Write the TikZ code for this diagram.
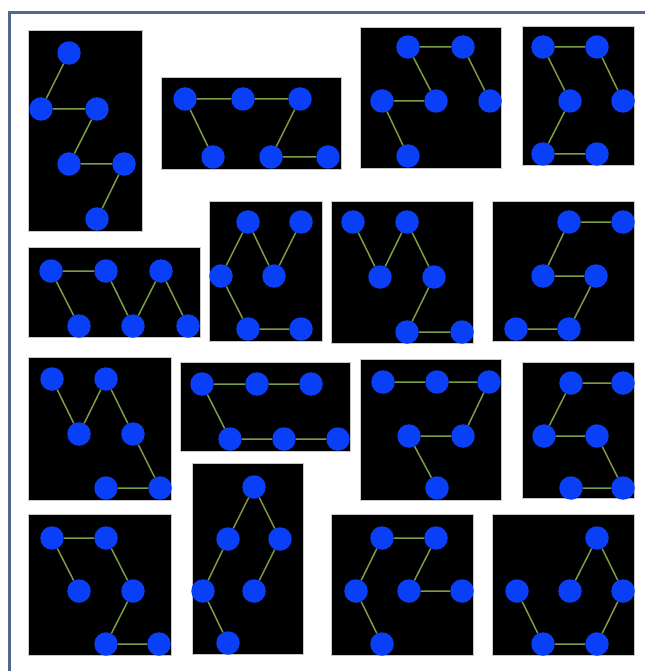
\documentclass[tikz,border=0pt]{standalone}
\usepackage{tikz}
\definecolor{site}{HTML}{0A3FF8}
\definecolor{bond}{HTML}{7E9B45}
\definecolor{frame}{HTML}{4F6890}
\definecolor{edge}{HTML}{C8C8C8}

\begin{document}
\begin{tikzpicture}[x=1pt, y=-1pt,
  site/.style={circle, fill=site, draw=none, inner sep=0pt, minimum size=23.5pt},
  bond/.style={draw=bond, line width=1.5pt},
  panel/.style={fill=black, draw=edge, line width=0.6pt},
  rim/.style={draw=frame, line width=3pt},
]
\fill[white] (0,0) rectangle (645,671);
\useasboundingbox (0,0) rectangle (645,671);
\draw[rim] (9.5,671) |- (645,13);
% first row
\draw[panel] (28,30) rectangle (142,231);
\foreach \i/\x/\y in {1/69/53,2/41/109,3/97/109,4/69/164,5/124/164,6/97/219}
  \node[site] (A\i) at (\x,\y) {};
\draw[bond] (A1) -- (A2) -- (A3) -- (A4) -- (A5) -- (A6);
\draw[panel] (161,77) rectangle (341,169);
\foreach \i/\x/\y in {1/185/99,2/243/99,3/300/99,4/213/157,5/271/157,6/328/157}
  \node[site] (B\i) at (\x,\y) {};
\draw[bond] (B4) -- (B1) -- (B2) -- (B3) -- (B5) -- (B6);
\draw[panel] (360,27) rectangle (501,168);
\foreach \i/\x/\y in {1/408/47,2/463/47,3/382/101,4/436/101,5/490/101,6/408/156}
  \node[site] (C\i) at (\x,\y) {};
\draw[bond] (C5) -- (C2) -- (C1) -- (C4) -- (C3) -- (C6);
\draw[panel] (522,26) rectangle (634,165);
\foreach \i/\x/\y in {1/543/47,2/597/47,3/570/101,4/623/101,5/543/154,6/597/154}
  \node[site] (D\i) at (\x,\y) {};
\draw[bond] (D4) -- (D2) -- (D1) -- (D3) -- (D5) -- (D6);
% second row
\draw[panel] (28,247) rectangle (200,337);
\foreach \i/\x/\y in {1/51/271,2/106/271,3/161/271,4/79/326,5/133/326,6/188/326}
  \node[site] (E\i) at (\x,\y) {};
\draw[bond] (E4) -- (E1) -- (E2) -- (E5) -- (E3) -- (E6);
\draw[panel] (209,201) rectangle (322,341);
\foreach \i/\x/\y in {1/248/222,2/301/222,3/221/276,4/274/276,5/248/329,6/301/329}
  \node[site] (F\i) at (\x,\y) {};
\draw[bond] (F2) -- (F4) -- (F1) -- (F3) -- (F5) -- (F6);
\draw[panel] (331,201) rectangle (473,343);
\foreach \i/\x/\y in {1/353/222,2/407/222,3/380/277,4/434/277,5/407/332,6/462/332}
  \node[site] (G\i) at (\x,\y) {};
\draw[bond] (G1) -- (G3) -- (G2) -- (G4) -- (G5) -- (G6);
\draw[panel] (492,201) rectangle (634,341);
\foreach \i/\x/\y in {1/569/222,2/623/222,3/543/276,4/596/276,5/516/329,6/569/329}
  \node[site] (H\i) at (\x,\y) {};
\draw[bond] (H2) -- (H1) -- (H3) -- (H4) -- (H6) -- (H5);
% third row
\draw[panel] (28,357) rectangle (171,500);
\foreach \i/\x/\y in {1/52/379,2/106/379,3/79/434,4/133/434,5/106/488,6/160/488}
  \node[site] (I\i) at (\x,\y) {};
\draw[bond] (I1) -- (I3) -- (I2) -- (I4) -- (I6) -- (I5);
\draw[panel] (180,362) rectangle (350,451);
\foreach \i/\x/\y in {1/202/384,2/257/384,3/311/384,4/230/439,5/284/439,6/338/439}
  \node[site] (J\i) at (\x,\y) {};
\draw[bond] (J3) -- (J2) -- (J1) -- (J4) -- (J5) -- (J6);
\draw[panel] (360,359) rectangle (501,500);
\foreach \i/\x/\y in {1/383/382,2/437/382,3/489/382,4/409/436,5/463/436,6/437/488}
  \node[site] (K\i) at (\x,\y) {};
\draw[bond] (K1) -- (K2) -- (K3) -- (K5) -- (K4) -- (K6);
\draw[panel] (522,362) rectangle (634,498);
\foreach \i/\x/\y in {1/571/383,2/623/383,3/544/436,4/597/436,5/571/488,6/623/488}
  \node[site] (L\i) at (\x,\y) {};
\draw[bond] (L2) -- (L1) -- (L3) -- (L4) -- (L6) -- (L5);
% fourth row
\draw[panel] (28,514) rectangle (171,655);
\foreach \i/\x/\y in {1/52/538,2/106/538,3/79/591,4/133/591,5/106/644,6/159/644}
  \node[site] (M\i) at (\x,\y) {};
\draw[bond] (M3) -- (M1) -- (M2) -- (M4) -- (M5) -- (M6);
\draw[panel] (192,463) rectangle (303,654);
\foreach \i/\x/\y in {1/254/487,2/228/539,3/280/539,4/203/591,5/254/591,6/228/643}
  \node[site] (N\i) at (\x,\y) {};
\draw[bond] (N5) -- (N3) -- (N1) -- (N2) -- (N4) -- (N6);
\draw[panel] (331,514) rectangle (473,655);
\foreach \i/\x/\y in {1/382/538,2/436/538,3/356/591,4/409/591,5/462/591,6/382/644}
  \node[site] (O\i) at (\x,\y) {};
\draw[bond] (O6) -- (O3) -- (O1) -- (O2) -- (O4) -- (O5);
\draw[panel] (492,514) rectangle (634,655);
\foreach \i/\x/\y in {1/597/538,2/517/591,3/570/591,4/623/591,5/543/644,6/597/644}
  \node[site] (P\i) at (\x,\y) {};
\draw[bond] (P3) -- (P1) -- (P4) -- (P6) -- (P5) -- (P2);
\end{tikzpicture}
\end{document}
